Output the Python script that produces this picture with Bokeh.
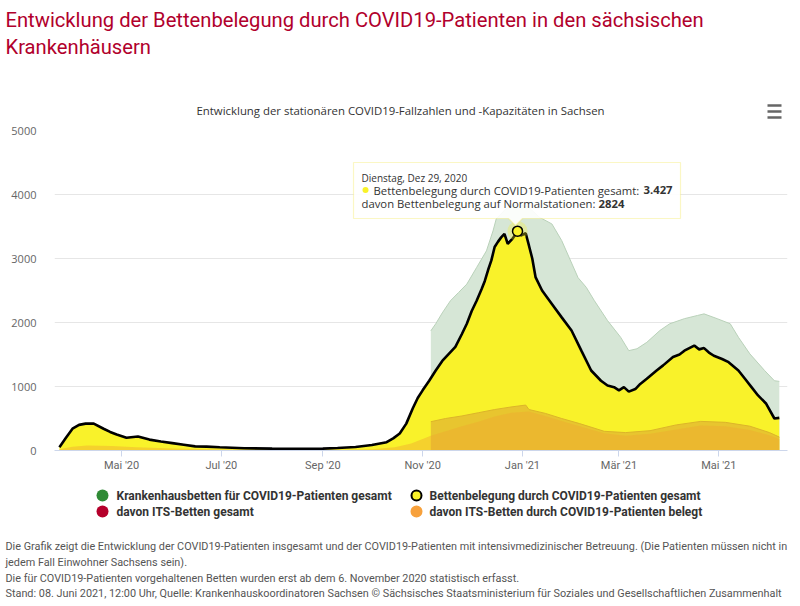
import pandas as pd
from bokeh.plotting import figure
from bokeh.layouts import column
from bokeh.models import Range1d, FixedTicker, Label, BoxAnnotation, PolyAnnotation
from bokeh.embed import file_html
from bokeh.resources import INLINE

# ---------------- data ----------------
gesamt_dates = [
    "2020-03-24", "2020-03-28", "2020-04-01", "2020-04-05", "2020-04-09", "2020-04-14",
    "2020-04-20", "2020-04-24", "2020-04-28", "2020-05-04", "2020-05-11", "2020-05-18",
    "2020-05-25", "2020-06-01", "2020-06-08", "2020-06-15", "2020-06-22", "2020-06-30",
    "2020-07-15", "2020-08-01", "2020-08-15", "2020-09-01", "2020-09-10", "2020-09-21",
    "2020-10-01", "2020-10-10", "2020-10-14", "2020-10-18", "2020-10-22", "2020-10-26",
    "2020-10-29", "2020-11-01", "2020-11-05", "2020-11-09", "2020-11-13", "2020-11-17",
    "2020-11-21", "2020-11-25", "2020-11-28", "2020-12-01", "2020-12-04", "2020-12-07",
    "2020-12-09", "2020-12-11", "2020-12-13", "2020-12-15", "2020-12-17", "2020-12-19",
    "2020-12-21", "2020-12-23", "2020-12-26", "2020-12-29", "2020-12-31", "2021-01-03",
    "2021-01-05", "2021-01-07", "2021-01-09", "2021-01-13", "2021-01-19", "2021-01-25",
    "2021-01-31", "2021-02-06", "2021-02-12", "2021-02-18", "2021-02-22", "2021-02-26",
    "2021-03-01", "2021-03-04", "2021-03-07", "2021-03-11", "2021-03-14", "2021-03-18",
    "2021-03-24", "2021-03-28", "2021-04-03", "2021-04-07", "2021-04-10", "2021-04-16",
    "2021-04-19", "2021-04-22", "2021-04-25", "2021-04-28", "2021-05-03", "2021-05-07",
    "2021-05-13", "2021-05-17", "2021-05-21", "2021-05-25", "2021-05-30", "2021-06-04",
    "2021-06-07",
]
gesamt_values = [
    50, 200, 340, 400, 420, 420,
    340, 290, 250, 200, 220, 170,
    140, 115, 90, 65, 60, 50,
    35, 30, 28, 30, 40, 55,
    85, 130, 190, 265, 420, 660,
    820, 940, 1090, 1250, 1400, 1510,
    1620, 1820, 1980, 2180, 2340, 2520,
    2650, 2820, 2970, 3180, 3260, 3330,
    3385, 3230, 3310, 3427, 3360, 3395,
    3200, 3000, 2710, 2500, 2290, 2080,
    1875, 1560, 1250, 1090, 1015, 990,
    940, 990, 920, 960, 1040, 1120,
    1250, 1330, 1460, 1500, 1560, 1640,
    1580, 1600, 1530, 1480, 1430, 1380,
    1250, 1120, 990, 860, 730, 500,
    510,
]

betten_dates = [
    "2020-11-06", "2020-11-09", "2020-11-13", "2020-11-18", "2020-11-23", "2020-11-28",
    "2020-12-04", "2020-12-10", "2020-12-14", "2020-12-16", "2020-12-22", "2020-12-29",
    "2021-01-05", "2021-01-11", "2021-01-19", "2021-01-25", "2021-02-04", "2021-02-09",
    "2021-02-14", "2021-02-22", "2021-03-02", "2021-03-07", "2021-03-12", "2021-03-18",
    "2021-03-26", "2021-04-01", "2021-04-10", "2021-04-18", "2021-04-22", "2021-04-30",
    "2021-05-08", "2021-05-13", "2021-05-20", "2021-05-29", "2021-06-04", "2021-06-07",
]
betten_values = [
    1870, 1980, 2150, 2340, 2470, 2600,
    2860, 3120, 3430, 3620, 3780, 3850,
    3800, 3650, 3540, 3280, 2700, 2550,
    2340, 2030, 1770, 1560, 1590, 1690,
    1875, 1980, 2060, 2110, 2135, 2060,
    1980, 1770, 1510, 1250, 1090, 1080,
]

its_gesamt_dates = [
    "2020-11-06", "2020-11-15", "2020-11-25", "2020-12-05", "2020-12-15", "2020-12-25",
    "2021-01-03", "2021-01-05", "2021-01-15", "2021-01-25", "2021-02-05", "2021-02-20",
    "2021-03-05", "2021-03-20", "2021-04-05", "2021-04-20", "2021-05-05", "2021-05-20",
    "2021-06-01", "2021-06-07",
]
its_gesamt_values = [
    450, 500, 540, 590, 640, 680,
    710, 640, 580, 500, 420, 300,
    280, 310, 400, 455, 440, 380,
    280, 210,
]

its_belegt_dates = [
    "2020-03-24", "2020-04-01", "2020-04-10", "2020-04-25", "2020-05-10", "2020-06-01",
    "2020-07-01", "2020-08-15", "2020-09-15", "2020-10-01", "2020-10-15", "2020-10-25",
    "2020-11-01", "2020-11-06", "2020-11-15", "2020-11-25", "2020-12-05", "2020-12-15",
    "2020-12-25", "2021-01-05", "2021-01-15", "2021-01-25", "2021-02-05", "2021-02-20",
    "2021-03-05", "2021-03-20", "2021-04-05", "2021-04-20", "2021-05-05", "2021-05-20",
    "2021-06-01", "2021-06-07",
]
its_belegt_values = [
    20, 60, 80, 70, 50, 30,
    15, 10, 12, 20, 50, 110,
    180, 230, 300, 380, 450, 530,
    590, 610, 540, 460, 380, 270,
    230, 260, 330, 390, 380, 320,
    240, 180,
]

normal_peak = 2824  # "davon Bettenbelegung auf Normalstationen" at the peak

x_tick_dates = ["2020-05-01", "2020-07-01", "2020-09-01", "2020-11-01",
                "2021-01-01", "2021-03-01", "2021-05-01"]
x_tick_labels = ["Mai '20", "Jul '20", "Sep '20", "Nov '20", "Jan '21", "Mär '21", "Mai '21"]
y_ticks = [0, 1000, 2000, 3000, 4000, 5000]

series_names = [
    "Krankenhausbetten für COVID19-Patienten gesamt",
    "Bettenbelegung durch COVID19-Patienten gesamt",
    "davon ITS-Betten gesamt",
    "davon ITS-Betten durch COVID19-Patienten belegt",
]
series_colors = ["#2f8a35", "#f9f22a", "#b5002b", "#f7a13c"]

page_title = ["Entwicklung der Bettenbelegung durch COVID19-Patienten in den sächsischen",
              "Krankenhäusern"]
chart_title = "Entwicklung der stationären COVID19-Fallzahlen und -Kapazitäten in Sachsen"
footer = [
    "Die Grafik zeigt die Entwicklung der COVID19-Patienten insgesamt und der COVID19-Patienten mit intensivmedizinischer Betreuung. (Die Patienten müssen nicht in",
    "jedem Fall Einwohner Sachsens sein).",
    "Die für COVID19-Patienten vorgehaltenen Betten wurden erst ab dem 6. November 2020 statistisch erfasst.",
    "Stand: 08. Juni 2021, 12:00 Uhr, Quelle: Krankenhauskoordinatoren Sachsen © Sächsisches Staatsministerium für Soziales und Gesellschaftlichen Zusammenhalt",
]

# ---------------- layout constants ----------------
W = 800
TOP_H = 120          # header strip (page px 0..120)
MAIN_TOP = 120       # main chart strip (page px 120..480)
MAIN_H = 360
BOT_TOP = 480        # legend + footer strip (page px 480..606)
BOT_H = 126
FL, FR, FT, FB = 54, 787, 130, 450   # plot frame in page px
NARROW = "Roboto"
SANS = "Open Sans"


def strip(h, y0):
    f = figure(width=W, height=h, output_backend="svg", toolbar_location=None,
               x_range=Range1d(0, W), y_range=Range1d(y0 + h, y0),
               x_axis_location=None, y_axis_location=None,
               min_border=0, min_border_left=0, min_border_right=0,
               min_border_top=0, min_border_bottom=0)
    f.frame_align = False
    f.grid.visible = False
    f.outline_line_color = None
    f.background_fill_color = "white"
    f.border_fill_color = "white"
    return f


def text_on(f, x, y, text, font=NARROW, size="12px", color="#333333",
            style="normal", align="left"):
    f.add_layout(Label(x=x, y=y, text=text, text_font=font, text_font_size=size,
                       text_color=color, text_font_style=style,
                       text_align=align, text_baseline="middle"))


# ---------------- header ----------------
top = strip(TOP_H, 0)
text_on(top, 5, 19, page_title[0], size="20.2px", color="#b1002c")
text_on(top, 5, 46, page_title[1], size="20.2px", color="#b1002c")
text_on(top, 400, 110, chart_title, font=SANS, size="11.4px", color="#333333", align="center")
menu_y = [105, 111, 117]
top.quad(left=[767] * 3, right=[781] * 3, top=[v - 1.2 for v in menu_y],
         bottom=[v + 1.2 for v in menu_y], fill_color="#666666", line_color=None)

# ---------------- main chart ----------------
g_x = pd.to_datetime(gesamt_dates)
b_x = pd.to_datetime(betten_dates)
ig_x = pd.to_datetime(its_gesamt_dates)
ib_x = pd.to_datetime(its_belegt_dates)

p = figure(width=W, height=MAIN_H, x_axis_type="datetime", output_backend="svg",
           toolbar_location=None,
           x_range=Range1d(pd.Timestamp("2020-03-21"), pd.Timestamp("2021-06-12")),
           y_range=Range1d(0, 5000),
           min_border_left=FL, min_border_right=W - FR,
           min_border_top=FT - MAIN_TOP, min_border_bottom=MAIN_TOP + MAIN_H - FB)
p.frame_align = False
p.outline_line_color = None
p.background_fill_color = "white"
p.border_fill_color = "white"

p.varea(x=b_x, y1=0, y2=betten_values, fill_color="#d6e6d6", fill_alpha=1.0)
p.line(x=b_x, y=betten_values, line_color="#b9d1b9", line_width=1)
p.varea(x=g_x, y1=0, y2=gesamt_values, fill_color="#f9f22a", fill_alpha=1.0)
p.varea(x=ig_x, y1=0, y2=its_gesamt_values, fill_color="#e8c52f", fill_alpha=1.0)
p.line(x=ig_x, y=its_gesamt_values, line_color="#dcb42a", line_width=1)
p.varea(x=ib_x, y1=0, y2=its_belegt_values, fill_color="#f0a830", fill_alpha=0.45)
p.line(x=g_x, y=gesamt_values, line_color="black", line_width=2.6)

i_peak = max(range(len(gesamt_values)), key=lambda i: gesamt_values[i])
p.scatter(x=[g_x[i_peak]], y=[gesamt_values[i_peak]], size=20,
          fill_color="#f9f22a", fill_alpha=0.3, line_color=None)
p.scatter(x=[g_x[i_peak]], y=[gesamt_values[i_peak]], size=10,
          fill_color="#f9f22a", line_color="black", line_width=1.5)

p.xgrid.visible = False
p.ygrid.grid_line_color = "#e6e6e6"
p.yaxis.ticker = FixedTicker(ticks=y_ticks)
p.yaxis.axis_line_color = None
p.yaxis.major_tick_line_color = None
p.yaxis.minor_tick_line_color = None
p.yaxis.major_label_standoff = 12
p.yaxis.major_label_text_font = SANS
p.yaxis.major_label_text_font_size = "11px"
p.yaxis.major_label_text_color = "#666666"

tick_ms = [int(pd.Timestamp(d).value // 10**6) for d in x_tick_dates]
p.xaxis.ticker = FixedTicker(ticks=tick_ms)
p.xaxis.major_label_overrides = {t: lab for t, lab in zip(tick_ms, x_tick_labels)}
p.xaxis.axis_line_color = "#ccd6eb"
p.xaxis.major_tick_line_color = "#ccd6eb"
p.xaxis.major_tick_in = 0
p.xaxis.major_tick_out = 6
p.xaxis.minor_tick_line_color = None
p.xaxis.major_label_standoff = 2
p.xaxis.major_label_text_font = NARROW
p.xaxis.major_label_text_font_size = "11px"
p.xaxis.major_label_text_color = "#666666"


def sx(cx):
    return cx - FL


def sy(cy):
    return FB - cy


def text_main(cx, cy, text, size="11.3px", style="normal"):
    p.add_layout(Label(x=sx(cx), y=sy(cy), x_units="screen", y_units="screen",
                       text=text, text_font=SANS, text_font_size=size,
                       text_color="#333333", text_font_style=style,
                       text_align="left", text_baseline="middle"))


# tooltip
tip_x = [353, 680, 680, 522, 515, 508, 353]
tip_y = [162, 162, 218, 218, 225, 218, 218]
p.add_layout(PolyAnnotation(xs=[sx(v) for v in tip_x], ys=[sy(v) for v in tip_y],
                            xs_units="screen", ys_units="screen",
                            fill_color="white", fill_alpha=0.9,
                            line_color="#f2e63c", line_width=1.2))
text_main(361, 177, "Dienstag, Dez 29, 2020", size="10px")
p.add_layout(BoxAnnotation(left=sx(362), right=sx(368), top=sy(186.5), bottom=sy(192.5),
                           left_units="screen", right_units="screen",
                           top_units="screen", bottom_units="screen",
                           fill_color="#f9f22a", fill_alpha=1.0, line_color=None,
                           border_radius=3))
text_main(373, 189.5, series_names[1] + ":")
text_main(643, 189.5, "{:,}".format(gesamt_values[i_peak]).replace(",", "."), style="bold")
text_main(361, 203, "davon Bettenbelegung auf Normalstationen:")
text_main(598, 203, str(normal_peak), style="bold")

# ---------------- legend + footer ----------------
bot = strip(BOT_H, BOT_TOP)
legend_mx = [102, 416, 102, 416]
legend_tx = [116, 429, 116, 429]
legend_cy = [495, 495, 511, 511]
for k in range(4):
    is_line = k == 1
    bot.scatter(x=[legend_mx[k]], y=[legend_cy[k]], size=10 if is_line else 12,
                fill_color=series_colors[k],
                line_color="black" if is_line else None, line_width=2)
    text_on(bot, legend_tx[k], legend_cy[k], series_names[k], size="12px", style="bold")

for cy, line in zip([546, 562, 578, 593], footer):
    text_on(bot, 5, cy, line, size="10.85px", color="#555555")

layout = column(top, p, bot, spacing=0)
open("out.html", "w").write(file_html(layout, INLINE))
